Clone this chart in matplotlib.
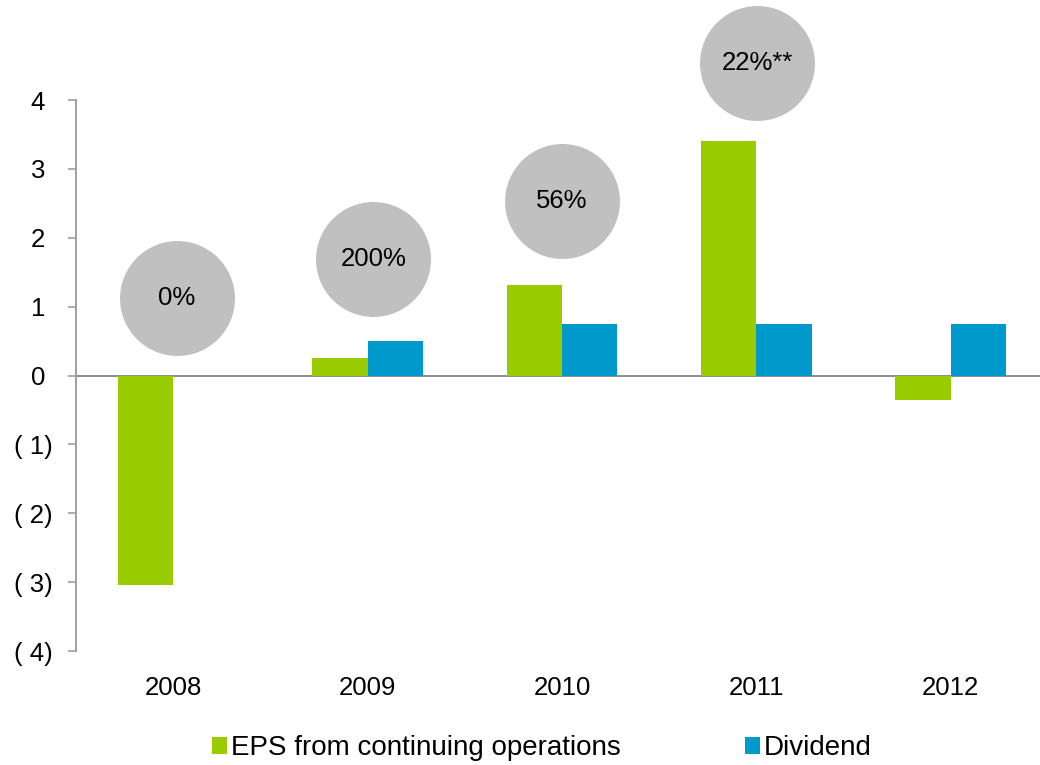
import matplotlib
matplotlib.use("Agg")
import matplotlib.pyplot as plt
import numpy as np

years = ["2008", "2009", "2010", "2011", "2012"]
eps = [-3.04, 0.25, 1.32, 3.40, -0.35]
dividend = [0.0, 0.5, 0.75, 0.75, 0.75]
payout_labels = ["0%", "200%", "56%", "22%**"]
payout_y = [1.12, 1.69, 2.54, 4.53]
payout_dx = [0.02, 0.03, 0.0, 0.005]
yticks = [4, 3, 2, 1, 0, -1, -2, -3, -4]
ytick_labels = ["4 ", "3 ", "2 ", "1 ", "0 ", "( 1)", "( 2)", "( 3)", "( 4)"]

green = "#99CC00"
blue = "#0099CC"
grey = "#C0C0C0"

plt.rcParams["font.family"] = ["Liberation Sans", "DejaVu Sans"]

fig = plt.figure(figsize=(10.4, 7.65), dpi=100)
ax = fig.add_axes([76 / 1040, 1 - 651 / 765, 972 / 1040, 551 / 765])

x = np.arange(len(years))
w = 0.285
ax.bar(x - w / 2, eps, w, color=green, label="EPS from continuing operations", zorder=2)
ax.bar(x + w / 2, dividend, w, color=blue, label="Dividend", zorder=2)

# payout bubbles
for i, (lab, yy) in enumerate(zip(payout_labels, payout_y)):
    ax.scatter(x[i] + payout_dx[i], yy, s=6850, color=grey, zorder=3, clip_on=False, linewidths=0)
    ax.text(x[i] + payout_dx[i], yy, lab, ha="center", va="center", fontsize=18.5, zorder=4)

ax.axhline(0, color="#8C8C8C", lw=1.4, zorder=1, clip_on=False)

ax.set_xlim(-0.5, 4.5)
ax.set_ylim(-4, 4)
ax.set_xticks(x)
ax.set_xticklabels(years, fontsize=18.5)
ax.set_yticks(yticks)
ax.set_yticklabels(ytick_labels, fontsize=18.5)
ax.tick_params(axis="x", length=0, pad=18)
ax.tick_params(axis="y", length=6, width=1.2, color="#A0A0A0", pad=11)

for s in ["top", "right", "bottom"]:
    ax.spines[s].set_visible(False)
ax.spines["left"].set_color("#A0A0A0")
ax.spines["left"].set_linewidth(1.4)

fig.legend(loc="center", bbox_to_anchor=(542 / 1040, 1 - 748 / 765), ncol=2,
           frameon=False, fontsize=20, handlelength=0.55, handleheight=0.55,
           handletextpad=0.15, columnspacing=4.45, borderaxespad=0, borderpad=0)

fig.savefig("out.png", dpi=100)
